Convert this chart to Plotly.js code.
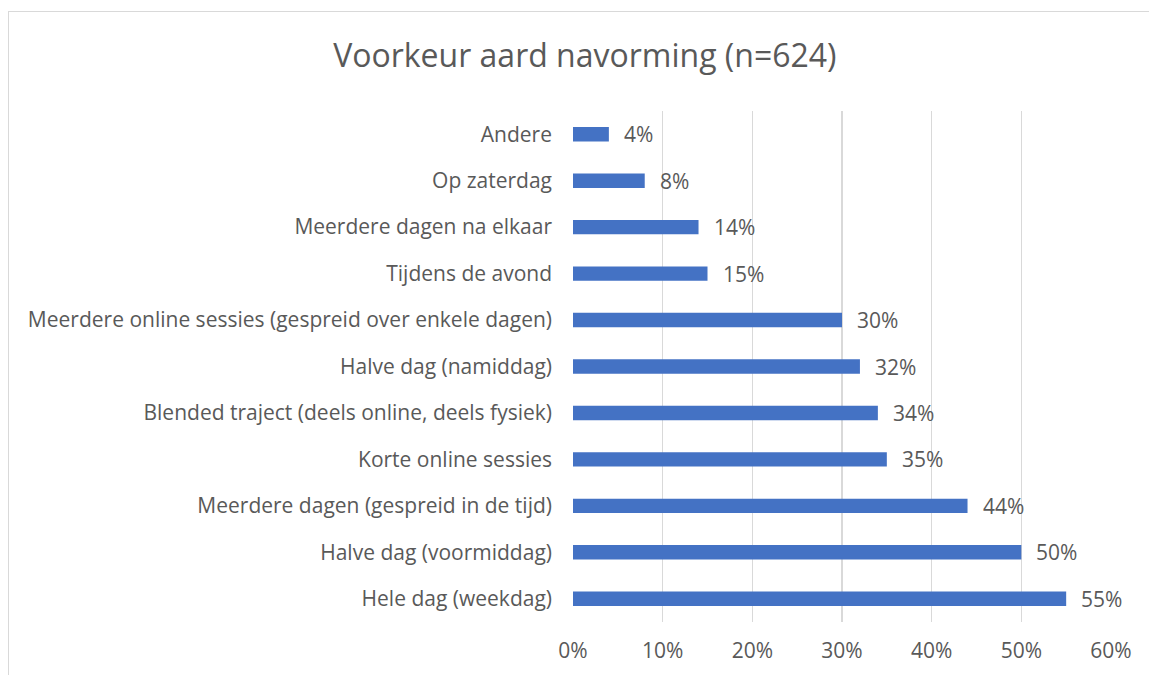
<!DOCTYPE html>
<html>
<head>
<meta charset="utf-8">
<script src="https://cdn.plot.ly/plotly-3.0.1.min.js"></script>
<style>
html,body{margin:0;padding:0;background:#fff;overflow:hidden;}
#chart{width:1149px;height:675px;}
#frame{position:absolute;left:8px;top:11px;width:1200px;height:700px;border-left:1.5px solid #D9D9D9;border-top:1.5px solid #D9D9D9;pointer-events:none;}
</style>
</head>
<body>
<div id="chart"></div>
<div id="frame"></div>
<script>
// Categories listed bottom to top
const categories = [
  "Hele dag (weekdag)",
  "Halve dag (voormiddag)",
  "Meerdere dagen (gespreid in de tijd)",
  "Korte online sessies",
  "Blended traject (deels online, deels fysiek)",
  "Halve dag (namiddag)",
  "Meerdere online sessies (gespreid over enkele dagen)",
  "Tijdens de avond",
  "Meerdere dagen na elkaar",
  "Op zaterdag",
  "Andere"
];
const values = [55, 50, 44, 35, 34, 32, 30, 15, 14, 8, 4];
const tickValues = [0, 10, 20, 30, 40, 50, 60];
const tickLabels = ["0%", "10%", "20%", "30%", "40%", "50%", "60%"];
const chartTitle = "Voorkeur aard navorming (n=624)";

const fontFam = "Open Sans, Noto Sans, sans-serif";
const grey = "#595959";

const trace = {
  type: "bar",
  orientation: "h",
  x: values,
  y: categories,
  width: 0.31,
  marker: {color: "#4472C4"},
  hoverinfo: "skip"
};

const annotations = categories.map((c, i) => ({
  x: values[i], y: c, xref: "x", yref: "y",
  text: values[i] + "%", showarrow: false,
  xanchor: "left", yanchor: "middle", xshift: 13, yshift: 0,
  font: {family: fontFam, size: 21, color: grey}
}));

const layout = {
  width: 1149, height: 675,
  margin: {l: 573, r: 38, t: 111, b: 53},
  paper_bgcolor: "#fff", plot_bgcolor: "#fff",
  title: {text: chartTitle, x: 0.509, xanchor: "center", y: 0.917, yanchor: "middle",
          font: {family: fontFam, size: 32, color: grey}},
  xaxis: {range: [0, 60], tickvals: tickValues, ticktext: tickLabels,
          showgrid: true, gridcolor: "#D9D9D9", gridwidth: 1.3,
          zeroline: false, showline: false, ticks: "",
          ticklabelstandoff: 14,
          tickfont: {family: fontFam, size: 21, color: grey}, fixedrange: true},
  yaxis: {type: "category", showgrid: false, zeroline: false, showline: false, ticks: "",
          ticklabelstandoff: 20,
          tickfont: {family: fontFam, size: 21, color: grey}, fixedrange: true},
  annotations: annotations,
  showlegend: false,
  bargap: 0.69
};

Plotly.newPlot("chart", [trace], layout, {displayModeBar: false, staticPlot: true});
</script>
</body>
</html>
